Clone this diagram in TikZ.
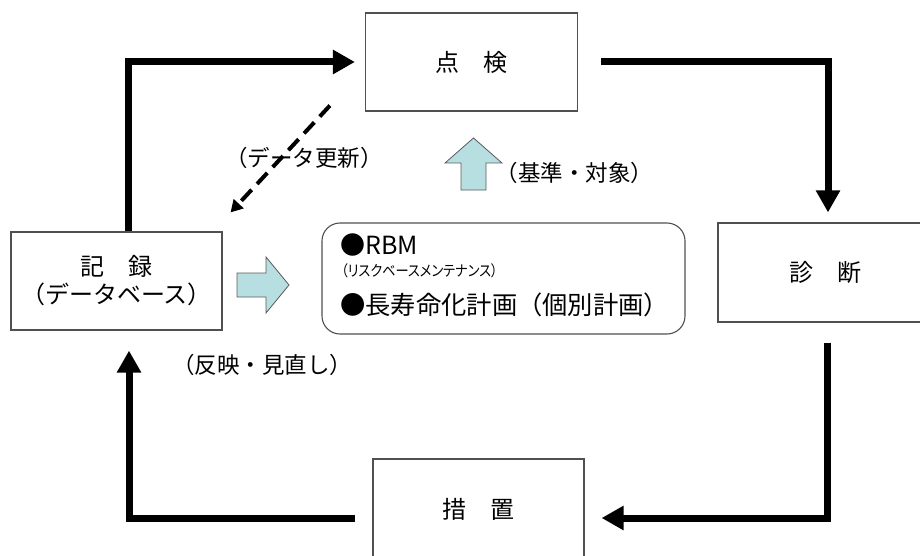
\documentclass[tikz,border=0pt]{standalone}
\usepackage{fontspec}
\setmainfont{Noto Sans CJK JP}
\newfontfamily\jpp[RawFeature=+palt,FakeStretch=0.88]{Noto Sans CJK JP}
\usetikzlibrary{arrows.meta}
\definecolor{boxline}{RGB}{80,80,80}
\definecolor{blockfill}{RGB}{183,222,225}
\definecolor{blockline}{RGB}{90,90,90}
\begin{document}
\begin{tikzpicture}[x=1pt,y=-1pt,
  stage/.style={draw=boxline,line width=1.1pt,rectangle,minimum width=212pt,minimum height=98pt,inner sep=0pt,
    font=\fontsize{24}{28}\selectfont,align=center},
  plan/.style={draw=boxline,line width=1.1pt,rounded corners=18pt,minimum width=363pt,minimum height=111pt,inner sep=0pt},
  flow/.style={line width=7pt,-{Triangle[length=22pt,width=23pt]}},
  upd/.style={line width=4pt,dash pattern=on 15pt off 8pt,-{Triangle[length=12pt,width=13pt]}},
  lbl/.style={font=\fontsize{22.5}{26}\selectfont,inner sep=0pt},
  blockarrow/.style={draw=blockline,line width=0.8pt,fill=blockfill}]
\useasboundingbox (0,0) rectangle (920,556);
\clip (0,0) rectangle (920,556);
% boxes
\node[stage] (tenken) at (471.5,62) {点　検};
\node[stage,minimum width=211pt] (kiroku) at (116.5,281) {記　録\\（データベース）};
\node[stage,minimum width=214pt,minimum height=99pt] (shindan) at (825,272.5) {診　断};
\node[stage,minimum width=211pt,minimum height=100pt] (sochi) at (478.5,509) {措　置};
\node[plan] (rbm) at (503.5,278.5) {};
% text in the plan box
\node[anchor=west,inner sep=0pt,font=\fontsize{25}{29}\selectfont] (rbmA) at (340,245) {●RBM};
\node[anchor=west,inner sep=0pt,font=\jpp\fontsize{15}{18}\selectfont] (rbmB) at (341,271) {（リスクベースメンテナンス）};
\node[anchor=west,inner sep=0pt,font=\fontsize{25.3}{29}\selectfont] (rbmC) at (340,305) {●長寿命化計画（個別計画）};
% cycle connectors
\draw[flow] ([shift={(12,0)}]kiroku.north) |- ([shift={(-10,0)}]tenken.west);
\draw[flow] ([shift={(23,0)}]tenken.east) -| ([shift={(3,-10)}]shindan.north);
\draw[flow] ([shift={(2,20)}]shindan.south) |- ([shift={(17,9)}]sochi.east);
\draw[flow] ([shift={(-17,9)}]sochi.west) -| ([shift={(12.5,20)}]kiroku.south);
% data update
\draw[upd] ([shift={(-35,-6)}]tenken.south west) -- ([shift={(8,-19)}]kiroku.north east);
% block arrows
\draw[blockarrow] (237,273) -- (266,273) -- (266,257) -- (289,285) -- (266,313) -- (266,297) -- (237,297) -- cycle;
\draw[blockarrow] (461,190) -- (461,163) -- (445,163) -- (473.5,138) -- (502,163) -- (486,163) -- (486,190) -- cycle;
% labels
\node[lbl] (lupd) at (304,158) {（データ更新）};
\node[lbl] (lstd) at (574.5,173) {（基準・対象）};
\node[lbl] (lrev) at (262,365) {（反映・見直し）};
\end{tikzpicture}
\end{document}
